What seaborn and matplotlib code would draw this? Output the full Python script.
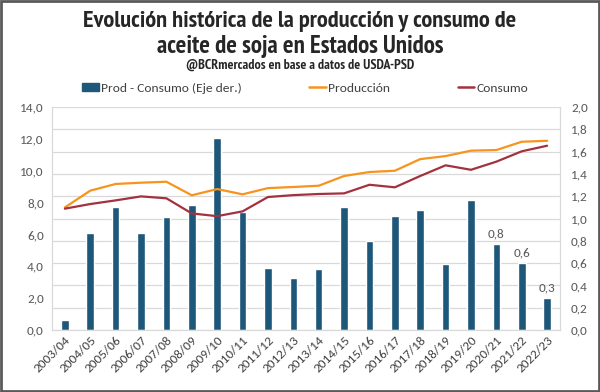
import numpy as np
import pandas as pd
import matplotlib
matplotlib.use("Agg")
import matplotlib.pyplot as plt
import seaborn as sns
from matplotlib import font_manager as fm
from matplotlib.lines import Line2D
from matplotlib.patches import Patch, Rectangle
from matplotlib.ticker import FuncFormatter

# campañas y valores (millones de toneladas)
campanias = ["2003/04", "2004/05", "2005/06", "2006/07", "2007/08", "2008/09",
             "2009/10", "2010/11", "2011/12", "2012/13", "2013/14", "2014/15",
             "2015/16", "2016/17", "2017/18", "2018/19", "2019/20", "2020/21",
             "2021/22", "2022/23"]
produccion = [7.70, 8.75, 9.17, 9.25, 9.31, 8.46, 8.85, 8.52, 8.91, 8.98,
              9.06, 9.67, 9.92, 10.00, 10.73, 10.92, 11.26, 11.30, 11.82, 11.88]
consumo = [7.62, 7.91, 8.14, 8.39, 8.27, 7.32, 7.15, 7.45, 8.35, 8.47,
           8.54, 8.58, 9.12, 8.96, 9.67, 10.34, 10.06, 10.57, 11.22, 11.57]
prod_cons = [0.09, 0.87, 1.10, 0.87, 1.01, 1.12, 1.72, 1.06, 0.56, 0.47,
             0.55, 1.10, 0.80, 1.02, 1.08, 0.59, 1.17, 0.77, 0.60, 0.29]
etiquetas = {"2020/21": "0,8", "2021/22": "0,6", "2022/23": "0,3"}

col_bar = "#1D5779"
col_prod = "#F7941D"
col_cons = "#A3323F"
gris = "#595959"


def elegir(prefs, negrita=False):
    # primera familia instalada de la lista (con variante negrita si hace falta)
    fuentes = fm.fontManager.ttflist
    for p in prefs:
        pesos = [f.weight for f in fuentes if f.name == p and f.style == "normal"]
        pesos = [w if isinstance(w, int) else fm.weight_dict.get(w, 400) for w in pesos]
        if pesos and (not negrita or max(pesos) >= 700):
            return p
    return "DejaVu Sans"


fuente_titulo = elegir(["Liberation Sans Narrow", "Arial Narrow", "Archivo Narrow",
                        "PT Sans Narrow", "Roboto Condensed", "Fira Sans Condensed",
                        "IBM Plex Sans Condensed", "Asap Condensed", "Pragati Narrow",
                        "Roboto"], negrita=True)
fuente_texto = elegir(["Carlito", "Calibri", "Lato", "Open Sans"])

sns.set_style("white")
plt.rcParams["font.family"] = [fuente_texto, "DejaVu Sans"]

df = pd.DataFrame({"campania": campanias, "prod": produccion,
                   "cons": consumo, "dif": prod_cons})
df["pos"] = np.arange(len(df))

fig = plt.figure(figsize=(6, 3.92), dpi=100)
ax_bar = fig.add_axes([0.087, 0.158, 0.846, 0.569])
ax_line = ax_bar.twinx()

sns.barplot(data=df, x="campania", y="dif", color=col_bar, width=0.3,
            saturation=1, ax=ax_bar, zorder=2)
sns.lineplot(data=df, x="pos", y="prod", color=col_prod, lw=1.6, ax=ax_line)
sns.lineplot(data=df, x="pos", y="cons", color=col_cons, lw=1.6, ax=ax_line)

for p, c in zip(ax_bar.patches, campanias):
    if c in etiquetas:
        ax_bar.text(p.get_x() + p.get_width() / 2, p.get_height() + 0.04,
                    etiquetas[c], ha="center", va="bottom", fontsize=9.5, color=gris)

ax_bar.set_xlim(-0.5, 19.5)
ax_bar.set_ylim(0, 2.0)
ax_line.set_ylim(0, 14.0)
ax_bar.set_yticks(np.arange(0, 2.01, 0.2))
ax_line.set_yticks(np.arange(0, 14.01, 2))
coma = FuncFormatter(lambda v, _: f"{v:.1f}".replace(".", ","))
ax_bar.yaxis.set_major_formatter(coma)
ax_line.yaxis.set_major_formatter(coma)

# barras en eje derecho, lineas en eje izquierdo
ax_bar.yaxis.tick_right()
ax_line.yaxis.tick_left()
ax_line.set_zorder(ax_bar.get_zorder() + 1)
ax_line.patch.set_visible(False)

ax_bar.grid(axis="y", color="#D9D9D9", lw=0.9, zorder=0)
ax_bar.set_axisbelow(True)
for a in (ax_bar, ax_line):
    a.set_xlabel("")
    a.set_ylabel("")
    for s in a.spines.values():
        s.set_color("#D9D9D9")
    a.spines["top"].set_visible(False)
    a.tick_params(length=0, colors=gris, labelsize=9.5)

ax_bar.set_xticks(range(len(campanias)))
ax_bar.set_xticklabels(campanias, rotation=45, ha="right", rotation_mode="anchor",
                       fontsize=9.5, color="#404040")
ax_bar.tick_params(axis="x", pad=3)
ax_bar.tick_params(axis="y", pad=8)
ax_line.tick_params(axis="y", pad=6)

# titulos: se ajusta el tamaño para que ocupen el ancho del original
renderer = fig.canvas.get_renderer()


def titulo(texto, y, ancho_px, tam_max):
    t = fig.text(0.5, y, texto, ha="center", va="baseline", fontsize=tam_max,
                 fontweight="bold", family=[fuente_titulo, "DejaVu Sans"])
    w = t.get_window_extent(renderer).width
    if w > ancho_px:
        t.set_fontsize(tam_max * ancho_px / w)
    return t


titulo("Evolución histórica de la producción y consumo de", 0.932, 432, 19)
titulo("aceite de soja en Estados Unidos", 0.864, 284, 19)
titulo("@BCRmercados en base a datos de USDA-PSD", 0.824, 228, 10)

handles = [Patch(color=col_bar),
           Line2D([], [], color=col_prod, lw=1.8),
           Line2D([], [], color=col_cons, lw=1.8)]
fig.legend(handles, ["Prod - Consumo (Eje der.)", "Producción", "Consumo"],
           loc="center", bbox_to_anchor=(0.509, 0.7755), ncol=3, frameon=False,
           fontsize=9.7, handlelength=1.2, handleheight=0.55, handletextpad=0.2,
           columnspacing=5.0, labelcolor="#404040")

fig.patches.append(Rectangle((0.002, 0.003), 0.996, 0.994, transform=fig.transFigure,
                             fill=False, edgecolor="#595959", lw=2))

fig.savefig("out.png", dpi=100)
